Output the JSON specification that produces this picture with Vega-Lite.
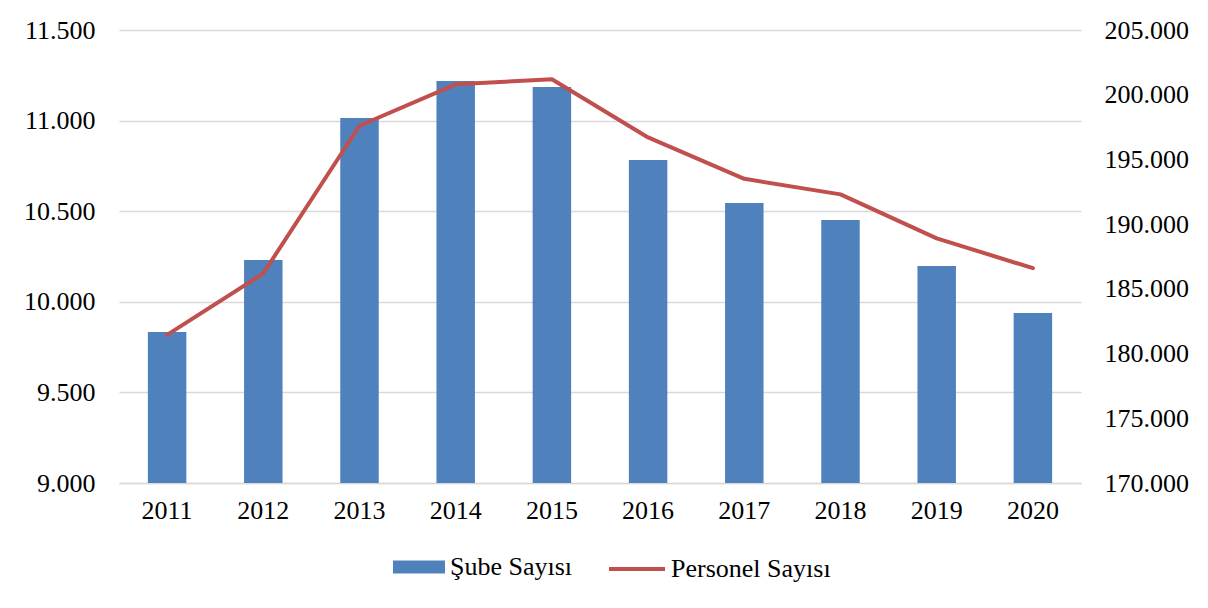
{
  "$schema": "https://vega.github.io/schema/vega-lite/v6.json",
  "width": 962,
  "height": 453,
  "autosize": {"type": "none"},
  "padding": {"left": 119, "top": 30, "right": 127, "bottom": 125},
  "background": "white",
  "config": {
    "font": "Times New Roman, Liberation Serif, serif",
    "view": {"stroke": null},
    "locale": {"number": {"decimal": ",", "thousands": ".", "grouping": [3], "currency": ["", ""]}},
    "axis": {"labelFont": "Times New Roman, Liberation Serif, serif", "labelFontSize": 26, "labelColor": "#000000", "title": null, "ticks": false, "domain": false},
    "legend": {"labelFont": "Times New Roman, Liberation Serif, serif"}
  },
  "data": {
    "values": [
      {"year": "2011", "sube": 9833, "personel": 181440},
      {"year": "2012", "sube": 10231, "personel": 186200},
      {"year": "2013", "sube": 11014, "personel": 197600},
      {"year": "2014", "sube": 11218, "personel": 200800},
      {"year": "2015", "sube": 11185, "personel": 201200},
      {"year": "2016", "sube": 10782, "personel": 196700},
      {"year": "2017", "sube": 10545, "personel": 193500},
      {"year": "2018", "sube": 10451, "personel": 192300},
      {"year": "2019", "sube": 10198, "personel": 188900},
      {"year": "2020", "sube": 9938, "personel": 186600}
    ]
  },
  "encoding": {
    "x": {
      "field": "year",
      "type": "nominal",
      "scale": {"paddingInner": 0.6, "paddingOuter": 0.3},
      "axis": {"labelAngle": 0, "labelPadding": 14, "domain": true, "domainColor": "#d9d9d9", "domainWidth": 1.5, "grid": false}
    }
  },
  "layer": [
    {
      "mark": {"type": "bar"},
      "encoding": {
        "y": {
          "field": "sube",
          "type": "quantitative",
          "scale": {"domain": [9000, 11500], "zero": false, "nice": false},
          "axis": {"orient": "left", "values": [9000, 9500, 10000, 10500, 11000, 11500], "format": ",.0f", "grid": true, "gridColor": "#d9d9d9", "gridWidth": 1.5, "labelPadding": 24}
        },
        "y2": {"datum": 9000},
        "fill": {
          "datum": "Şube Sayısı",
          "scale": {"range": ["#4F81BD"]},
          "legend": {
            "orient": "none", "legendX": 274, "legendY": 511, "title": null, "padding": 0,
            "symbolType": "M-1,-0.25H1V0.25H-1Z", "symbolSize": 2704, "symbolStrokeWidth": 0,
            "labelFontSize": 26, "labelColor": "#000000", "labelOffset": 5
          }
        }
      }
    },
    {
      "mark": {"type": "line", "strokeWidth": 4, "strokeCap": "round", "strokeJoin": "round"},
      "encoding": {
        "y": {
          "field": "personel",
          "type": "quantitative",
          "scale": {"domain": [170000, 205000], "zero": false, "nice": false},
          "axis": {"orient": "right", "values": [170000, 175000, 180000, 185000, 190000, 195000, 200000, 205000], "format": ",.0f", "grid": false, "labelPadding": 23}
        },
        "stroke": {
          "datum": "Personel Sayısı",
          "scale": {"range": ["#C0504D"]},
          "legend": {
            "orient": "none", "legendX": 488, "legendY": 509, "title": null, "padding": 0,
            "symbolType": "stroke", "symbolSize": 3136, "symbolStrokeWidth": 4,
            "labelFontSize": 26, "labelColor": "#000000", "labelOffset": 4
          }
        }
      }
    }
  ],
  "resolve": {"scale": {"y": "independent"}}
}
